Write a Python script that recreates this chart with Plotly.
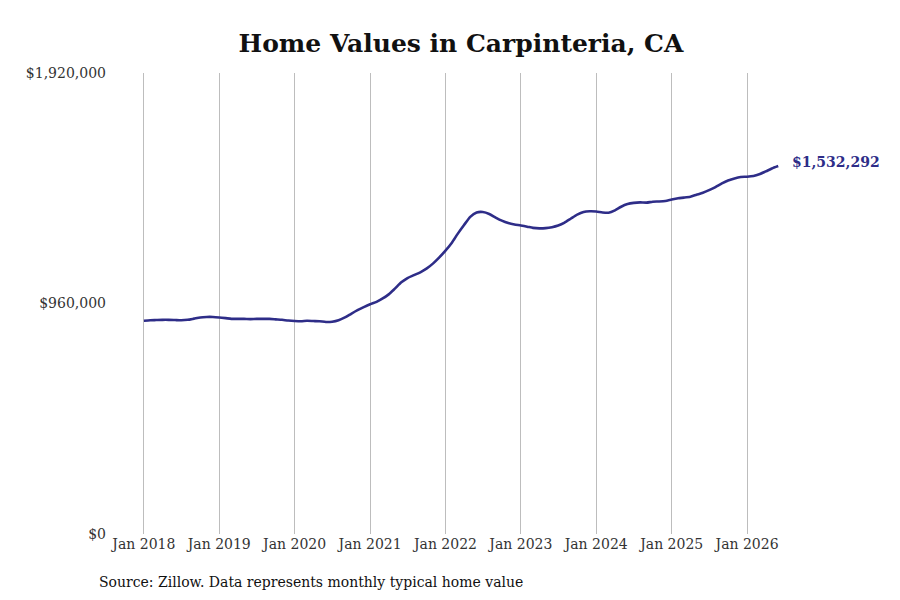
import plotly.graph_objects as go
import pandas as pd

dates = pd.date_range("2018-01-01", "2026-06-01", freq="MS")

values_2018 = [888000, 890000, 891000, 892000, 892000, 891000, 890000, 892000, 897000, 902000, 904000, 904000]
values_2019 = [902000, 899000, 896000, 896000, 896000, 895000, 896000, 896000, 896000, 894000, 892000, 889000]
values_2020 = [887000, 886000, 888000, 887000, 886000, 883000, 884000, 890000, 902000, 917000, 932000, 945000]
values_2021 = [957000, 967000, 980000, 998000, 1022000, 1048000, 1066000, 1078000, 1090000, 1105000, 1126000, 1151000]
values_2022 = [1180000, 1213000, 1250000, 1287000, 1321000, 1339000, 1341000, 1333000, 1318000, 1305000, 1295000, 1289000]
values_2023 = [1285000, 1280000, 1275000, 1273000, 1274000, 1278000, 1285000, 1297000, 1314000, 1330000, 1341000, 1344000]
values_2024 = [1343000, 1339000, 1338000, 1348000, 1363000, 1374000, 1379000, 1381000, 1380000, 1384000, 1385000, 1387000]
values_2025 = [1393000, 1398000, 1401000, 1405000, 1413000, 1421000, 1432000, 1445000, 1460000, 1472000, 1481000, 1487000]
values_2026 = [1488000, 1491000, 1498000, 1510000, 1522000, 1532292]

values = (values_2018 + values_2019 + values_2020 + values_2021 + values_2022
          + values_2023 + values_2024 + values_2025 + values_2026)

tick_dates = [f"{y}-01-01" for y in range(2018, 2027)]
tick_labels = [f"Jan {y}" for y in range(2018, 2027)]
y_ticks = [0, 960000, 1920000]
y_tick_labels = ["$0", "$960,000", "$1,920,000"]

title_text = "Home Values in Carpinteria, CA"
source_text = "Source: Zillow. Data represents monthly typical home value"
end_label = "$1,532,292"

line_color = "#2e2d88"
font_family = "DejaVu Serif"

ML, MT, PW, PH = 107, 65, 675, 461

fig = go.Figure()
fig.add_trace(go.Scatter(
    x=dates, y=values, mode="lines",
    line=dict(color=line_color, width=2.6, shape="spline", smoothing=0.6),
    hoverinfo="skip", showlegend=False,
))

fig.add_annotation(
    x=dates[-1], y=values[-1], text=f"<b>{end_label}</b>",
    showarrow=False, xanchor="left", yanchor="middle", xshift=12, yshift=4,
    font=dict(family=font_family, size=14, color=line_color),
)

fig.add_annotation(
    xref="paper", yref="paper", text=source_text, showarrow=False,
    x=(89 - ML) / PW, y=-(574 - (MT + PH)) / PH, xanchor="left", yanchor="middle",
    font=dict(family=font_family, size=14, color="#111111"),
)

fig.update_layout(
    width=900, height=600,
    margin=dict(l=ML, r=900 - ML - PW, t=MT, b=600 - MT - PH),
    paper_bgcolor="white", plot_bgcolor="white",
    title=dict(text=f"<b>{title_text}</b>", x=(453 - ML) / PW, xref="paper", xanchor="center",
               y=1 - 35 / 600, yanchor="middle",
               font=dict(family=font_family, size=25, color="#111111")),
    font=dict(family=font_family, size=14, color="#333333"),
    xaxis=dict(
        range=["2017-08-14", "2026-07-28"],
        tickvals=tick_dates, ticktext=tick_labels,
        showgrid=True, gridcolor="#bdbdbd", gridwidth=1,
        showline=False, zeroline=False, ticks="",
        tickfont=dict(family=font_family, size=14, color="#333333"),
    ),
    yaxis=dict(
        range=[0, 1920000],
        tickvals=y_ticks, ticktext=y_tick_labels,
        showgrid=False, zeroline=False, showline=False, ticks="",
        ticklabelstandoff=8,
        tickfont=dict(family=font_family, size=14, color="#333333"),
    ),
)

fig.write_html("out.html")
